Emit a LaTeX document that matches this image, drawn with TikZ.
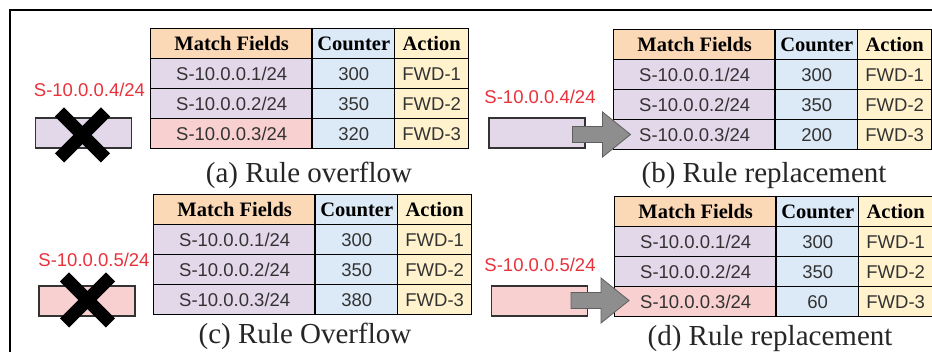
\documentclass[tikz,border=0pt]{standalone}
\usepackage{fontspec}
\setmainfont{Liberation Serif}
\setsansfont{Liberation Sans}
\usetikzlibrary{calc}

\definecolor{hdrpeach}{HTML}{FCD9B6}
\definecolor{cntblue}{HTML}{DCE9F6}
\definecolor{actyellow}{HTML}{FFF2CC}
\definecolor{rulelav}{HTML}{E3D7EA}
\definecolor{rulepink}{HTML}{F8D0CF}
\definecolor{datagray}{HTML}{333333}
\definecolor{addrred}{HTML}{E8323C}
\definecolor{arrowgray}{HTML}{8E8E8E}
\definecolor{arrowedge}{HTML}{5E5E5E}

\tikzset{
  cell/.style={draw=black, line width=1.4pt, anchor=north west, inner sep=0pt,
    minimum height=30pt, text=datagray, font=\sffamily\fontsize{18.5}{18.5}\selectfont},
  hdr/.style={cell, text=black, font=\rmfamily\bfseries\fontsize{20.5}{20}\selectfont},
  addr/.style={text=addrred, inner sep=0pt, font=\sffamily\fontsize{18.5}{18.5}\selectfont},
  pktbox/.style={draw=black!80, line width=1.1pt, minimum width=96pt, minimum height=30pt, inner sep=0pt},
  xmark/.style={line width=13pt, line cap=butt, black},
  blockarrow/.style={fill=arrowgray, draw=arrowedge, line width=0.8pt, line join=miter},
  caption/.style={anchor=base, inner sep=0pt, text=black!85, font=\rmfamily\fontsize{29}{29}\selectfont},
}

% flow table: #1 prefix, #2 top-left corner, #3 fill of third match cell,
% #4-#6 counter values
\newcommand\flowtable[6]{%
  \begin{scope}[shift={#2}]
    \node[hdr, fill=hdrpeach, minimum width=162pt] (#1h1) at (0,0) {Match Fields};
    \node[hdr, fill=cntblue, minimum width=82pt] (#1h2) at (162,0) {Counter};
    \node[hdr, fill=actyellow, minimum width=74pt] (#1h3) at (244,0) {Action};
    \node[cell, fill=rulelav, minimum width=162pt] (#1m1) at (0,30) {S-10.0.0.1/24};
    \node[cell, fill=cntblue, minimum width=82pt] (#1c1) at (162,30) {#4};
    \node[cell, fill=actyellow, minimum width=74pt] (#1a1) at (244,30) {FWD-1};
    \node[cell, fill=rulelav, minimum width=162pt] (#1m2) at (0,60) {S-10.0.0.2/24};
    \node[cell, fill=cntblue, minimum width=82pt] (#1c2) at (162,60) {#5};
    \node[cell, fill=actyellow, minimum width=74pt] (#1a2) at (244,60) {FWD-2};
    \node[cell, fill=#3, minimum width=162pt] (#1m3) at (0,90) {S-10.0.0.3/24};
    \node[cell, fill=cntblue, minimum width=82pt] (#1c3) at (162,90) {#6};
    \node[cell, fill=actyellow, minimum width=74pt] (#1a3) at (244,90) {FWD-3};
    \draw[line width=2.6pt] (#1h2.north west) -- (#1c3.south west);
  \end{scope}}

% grey block arrow pointing right, starting at a named coordinate
\newcommand\pusharrow[1]{%
  \draw[blockarrow, shift={(#1)}] (0,-8) -- (30,-8) -- (30,-22.5) -- (58,0)
    -- (30,22.5) -- (30,8) -- (0,8) -- cycle;}

\begin{document}
\begin{tikzpicture}[x=1pt, y=-1pt]
  \useasboundingbox (0,0) rectangle (932,352);
  \fill[white] (0,0) rectangle (932,352);

  % frame
  \draw[line width=1.5pt] (10,352) -- (10,10) -- (932,10);

  % (a) rule overflow
  \flowtable{ta}{(150,28)}{rulepink}{300}{350}{320}
  \node[addr] (la) at (89.5,90) {S-10.0.0.4/24};
  \node[pktbox, fill=rulelav] (pa) at (83.5,133) {};
  \draw[xmark] ($(pa)+(-24,-21)$) -- ($(pa)+(22,25)$);
  \draw[xmark] ($(pa)+(-24,25)$) -- ($(pa)+(22,-21)$);
  \node[caption] (capa) at (309,183) {(a) Rule overflow};

  % (b) rule replacement
  \flowtable{tb}{(613,29)}{rulelav}{300}{350}{200}
  \node[addr] (lb) at (540,97) {S-10.0.0.4/24};
  \node[pktbox, fill=rulelav] (pb) at (537,133) {};
  \coordinate (ab) at ($(pb.east)+(-13,1.5)$);
  \pusharrow{ab}
  \node[caption] (capb) at (764,183) {(b) Rule replacement};

  % (c) rule overflow
  \flowtable{tc}{(153,194)}{rulelav}{300}{350}{380}
  \node[addr] (lc) at (94,260) {S-10.0.0.5/24};
  \node[pktbox, fill=rulepink] (pc) at (87,301) {};
  \draw[xmark] ($(pc)+(-22.5,-24)$) -- ($(pc)+(23.5,22)$);
  \draw[xmark] ($(pc)+(-22.5,22)$) -- ($(pc)+(23.5,-24)$);
  \node[caption] (capc) at (305,344) {(c) Rule Overflow};

  % (d) rule replacement
  \flowtable{td}{(614,196)}{rulepink}{300}{350}{60}
  \node[addr] (ld) at (540,265) {S-10.0.0.5/24};
  \node[pktbox, fill=rulepink] (pd) at (539.5,301) {};
  \coordinate (ad) at ($(pd.east)+(-17,-0.5)$);
  \pusharrow{ad}
  \node[caption] (capd) at (770,346) {(d) Rule replacement};
\end{tikzpicture}
\end{document}
